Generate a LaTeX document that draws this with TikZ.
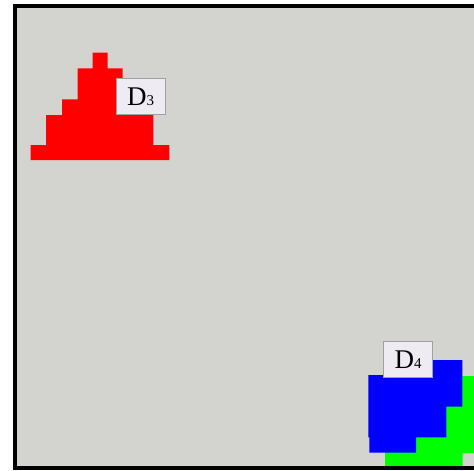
\documentclass[tikz,border=0pt]{standalone}
\usepackage{fontspec}
\setmainfont{Liberation Serif}
\definecolor{bggray}{RGB}{211,211,207}
\definecolor{boxfill}{RGB}{238,236,242}
\definecolor{boxline}{RGB}{160,160,160}
\tikzset{
  region/.style={draw=none},
  lab/.style={draw=boxline, line width=0.8pt, fill=boxfill, minimum width=49pt, minimum height=36pt, inner sep=0pt, font=\fontsize{27}{27}\selectfont},
  frame/.style={draw=black, line width=3.8pt}
}
\newcommand{\sm}[1]{{\fontsize{15}{15}\selectfont #1}}
\begin{document}
\begin{tikzpicture}[x=1pt,y=-1pt]
\useasboundingbox (0,0) rectangle (474,471);
\fill[bggray] (14.7,6) rectangle (490,468.3);
% red triangle
\fill[red] (92.7,52.7) -- (107.7,52.7) -- (107.7,68.3) -- (122.7,68.3) -- (122.7,80) -- (153.3,80) -- (153.3,145) -- (169.3,145) -- (169.3,160) -- (30.7,160) -- (30.7,145) -- (46,145) -- (46,115) -- (62,115) -- (62,99.3) -- (77.7,99.3) -- (77.7,68.3) -- (92.7,68.3) -- cycle;
% green
\fill[green] (385,468) -- (462.7,468) -- (462.7,453) -- (480,453) -- (480,376) -- (385,376) -- cycle;
% blue
\fill[blue] (368.3,375) -- (400,375) -- (400,360) -- (462.3,360) -- (462.3,406.7) -- (446.3,406.7) -- (446.3,437.3) -- (416,437.3) -- (416,452.7) -- (369.3,452.7) -- (369.3,437.3) -- (368.3,437.3) -- cycle;
% labels
\node[lab] (d3) at (140.5,96.3) {D\sm{3}};
\node[lab] (d4) at (408.2,359.5) {D\sm{4}};
% frame
\draw[frame] (490,6) -- (14.7,6) -- (14.7,468.3) -- (490,468.3);
\end{tikzpicture}
\end{document}
